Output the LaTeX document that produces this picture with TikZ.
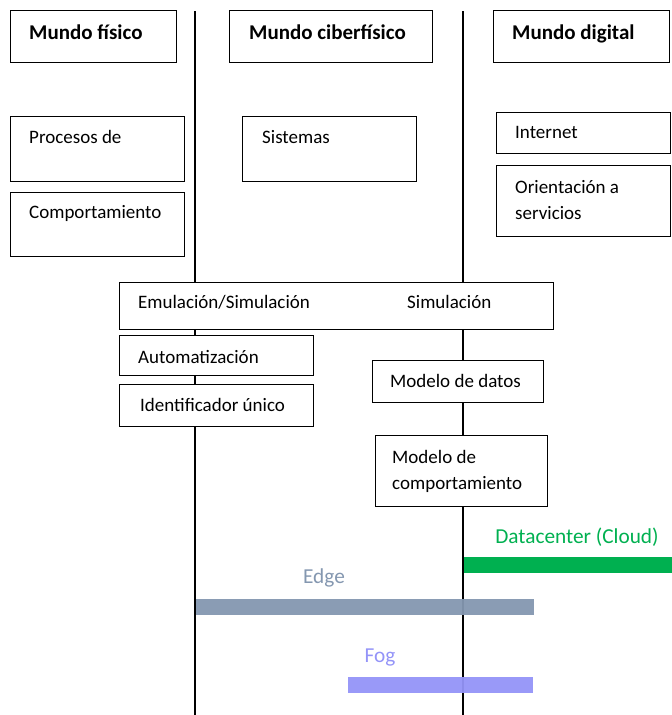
\documentclass[tikz,border=0pt]{standalone}
\usepackage{fontspec}
\setmainfont{Carlito}
\definecolor{cloudgreen}{HTML}{00B050}
\definecolor{edgeblue}{HTML}{8497B0}
\definecolor{fogblue}{HTML}{9494F8}
\begin{document}
\begin{tikzpicture}[x=1pt,y=-1pt,
  box/.style={draw=black,line width=1.4pt,fill=white,inner sep=0pt,anchor=north west},
  txt/.style={anchor=base west,inner sep=0pt,font=\fontsize{19}{26}\selectfont},
  head/.style={anchor=base west,inner sep=0pt,font=\fontsize{21}{26}\selectfont\bfseries},
  axis/.style={line width=1.6pt,black},
  barlabel/.style={anchor=base,inner sep=0pt,font=\fontsize{21.3}{26}\selectfont}]
\useasboundingbox (0,0) rectangle (672,715);

% the two borders between the worlds
\coordinate (a1) at (195,11);
\coordinate (a2) at (195,715);
\coordinate (b1) at (463,11);
\coordinate (b2) at (463,715);
\draw[axis] (a1) -- (a2);
\draw[axis] (b1) -- (b2);

% headers
\node[box,minimum width=166pt,minimum height=52pt] (hf) at (10,10) {};
\node[head] (hft) at (29,39) {Mundo físico};
\node[box,minimum width=203pt,minimum height=52pt] (hc) at (229,10) {};
\node[head] (hct) at (249,39) {Mundo ciberfísico};
\node[box,minimum width=176pt,minimum height=52pt] (hd) at (493,10) {};
\node[head] (hdt) at (512,39) {Mundo digital};

% physical world
\node[box,minimum width=174pt,minimum height=65pt] (proc) at (10,116) {};
\node[txt] (proct) at (29,143) {Procesos de};
\node[box,minimum width=174pt,minimum height=64pt] (comp) at (10,192) {};
\node[txt] (compt) at (29,218) {Comportamiento};

% cyber-physical world
\node[box,minimum width=174pt,minimum height=65pt] (sis) at (242,116) {};
\node[txt] (sist) at (262,143) {Sistemas};

% digital world
\node[box,minimum width=174pt,minimum height=41pt] (inet) at (496,112) {};
\node[txt] (inett) at (515,138) {Internet};
\node[box,minimum width=174pt,minimum height=71pt] (soa) at (496,165) {};
\node[txt] (soat1) at (515,193) {Orientación a};
\node[txt] (soat2) at (515,219) {servicios};

% shared layers
\node[box,minimum width=434pt,minimum height=47pt] (emu) at (119,282) {};
\node[txt] (emut) at (138,308) {Emulación/Simulación};
\node[txt] (simt) at (407,308) {Simulación};
\node[box,minimum width=194pt,minimum height=40pt] (auto) at (119,335) {};
\node[txt] (autot) at (138,363) {Automatización};
\node[box,minimum width=194pt,minimum height=42pt] (uid) at (119,384) {};
\node[txt] (uidt) at (140,411) {Identificador único};
\node[box,minimum width=171pt,minimum height=42pt] (mdat) at (372,360) {};
\node[txt] (mdatt) at (390,387) {Modelo de datos};
\node[box,minimum width=172pt,minimum height=71pt] (mcomp) at (375,435) {};
\node[txt] (mcompt1) at (392,463) {Modelo de};
\node[txt] (mcompt2) at (392,489) {comportamiento};

% computing tiers
\fill[cloudgreen] (464,557) rectangle (672,573);
\node[barlabel,text=cloudgreen] (cloud) at (577,543) {Datacenter (Cloud)};
\fill[edgeblue,opacity=.95] (196,599) rectangle (534,615);
\node[barlabel,text=edgeblue] (edge) at (324,583) {Edge};
\fill[fogblue,opacity=.95] (348,677) rectangle (533,693);
\node[barlabel,text=fogblue] (fog) at (380,662) {Fog};
\end{tikzpicture}
\end{document}
